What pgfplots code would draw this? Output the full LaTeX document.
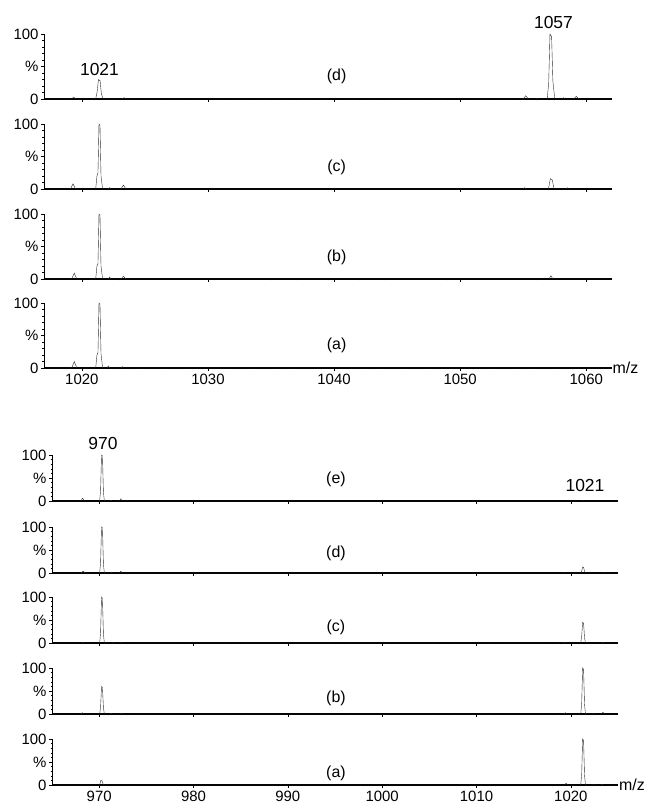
\documentclass[border=0pt]{standalone}
\usepackage{pgfplots}
\pgfplotsset{compat=1.18}
\usepackage{fontspec}
\setmainfont{Liberation Sans}
\newcommand\tlbl{\fontsize{15}{17}\selectfont}
\newcommand\plbl{\fontsize{16}{18}\selectfont}
\newcommand\pklbl{\fontsize{17.5}{19}\selectfont}
\definecolor{speccol}{RGB}{45,45,45}

\pgfplotsset{
  specaxis/.style={scale only axis, axis x line*=bottom, axis y line*=left,
    ymin=0, ymax=100, ytick={0,50,100}, yticklabels={0,\%,100},
    minor y tick num=4, tick align=outside,
    major tick length=3bp, minor tick length=1.5bp,
    every tick/.style={black, line width=0.5pt},
    x axis line style={line width=1.4pt}, y axis line style={line width=0.6pt},
    tick label style={font=\tlbl}, yticklabel style={xshift=1bp}, clip=false,
    cycle list={{speccol, line width=0.75pt, mark=none}}},
  topg/.style={specaxis, width=567.5bp, height=65bp, xmin=1017, xmax=1062,
    xtick={1020,1030,1040,1050,1060}, minor x tick num=9, xticklabels=\empty},
  botg/.style={specaxis, width=566bp, height=46bp, xmin=965, xmax=1025,
    xtick={970,980,990,1000,1010,1020}, minor x tick num=9, xticklabels=\empty},
}

\begin{document}
\begin{tikzpicture}
\useasboundingbox (0,0) rectangle (648bp,806bp);

% ---- upper set: m/z 1017-1062 ----
\begin{axis}[topg, at={(44bp,707bp)}, anchor=south west]
\addplot coordinates {(1017,0) (1019.2,0) (1019.35,3) (1019.5,0)
 (1021.1,0) (1021.22,12) (1021.32,30) (1021.45,28) (1021.55,8) (1021.68,0)
 (1023.2,0) (1023.35,2) (1023.5,0)
 (1055.0,0) (1055.2,5) (1055.4,0) (1056.0,0) (1056.1,1) (1056.2,0)
 (1056.9,0) (1057.02,25) (1057.12,100) (1057.25,96) (1057.35,28) (1057.5,0)
 (1058.1,0) (1058.2,2) (1058.3,0) (1059.0,0) (1059.2,4) (1059.4,0) (1062,0)};
\node[font=\plbl] at (axis cs:1040.2,35) {(d)};
\node[font=\pklbl] at (axis cs:1021.4,45) {1021};
\node[font=\pklbl] at (axis cs:1057.4,118) {1057};
\end{axis}

\begin{axis}[topg, at={(44bp,617bp)}, anchor=south west]
\addplot coordinates {(1017,0) (1019.1,0) (1019.3,8) (1019.5,0)
 (1021.1,0) (1021.2,20) (1021.28,25) (1021.36,100) (1021.44,98) (1021.52,20) (1021.65,0)
 (1022.1,0) (1022.2,2) (1022.3,0) (1023.1,0) (1023.3,6) (1023.5,0)
 (1055.0,0) (1055.1,2) (1055.2,0)
 (1057.0,0) (1057.15,16) (1057.3,14) (1057.45,0)
 (1058.4,0) (1058.5,2) (1058.6,0) (1062,0)};
\node[font=\plbl] at (axis cs:1040.2,34) {(c)};
\end{axis}

\begin{axis}[topg, at={(44bp,527bp)}, anchor=south west]
\addplot coordinates {(1017,0) (1019.2,0) (1019.4,9) (1019.6,0)
 (1021.1,0) (1021.2,20) (1021.28,24) (1021.36,100) (1021.44,98) (1021.52,20) (1021.65,0)
 (1022.1,0) (1022.2,3) (1022.3,0) (1023.1,0) (1023.3,4) (1023.5,0)
 (1057.05,0) (1057.2,5) (1057.35,0) (1062,0)};
\node[font=\plbl] at (axis cs:1040.2,34) {(b)};
\end{axis}

\begin{axis}[topg, at={(44bp,438bp)}, anchor=south west,
  xticklabels={1020,1030,1040,1050,1060}]
\addplot coordinates {(1017,0) (1019.2,0) (1019.4,10) (1019.6,0)
 (1021.1,0) (1021.2,20) (1021.28,24) (1021.36,100) (1021.44,98) (1021.52,22) (1021.65,0)
 (1022.0,0) (1022.1,3) (1022.2,0) (1023.1,0) (1023.2,2) (1023.3,0) (1062,0)};
\node[font=\plbl] at (axis cs:1040.2,35) {(a)};
\node[font=\plbl, anchor=west, inner sep=1pt] at (rel axis cs:1,0) {m/z};
\end{axis}

% ---- lower set: m/z 965-1025 ----
\begin{axis}[botg, at={(52bp,305bp)}, anchor=south west]
\addplot coordinates {(965,0) (968.05,0) (968.25,6) (968.45,0)
 (970.05,0) (970.15,22) (970.25,100) (970.35,98) (970.45,20) (970.55,0)
 (971.15,0) (971.25,2) (971.35,0) (972.15,0) (972.3,5) (972.45,0)
 (1021.2,0) (1021.3,1) (1021.4,0) (1025,0)};
\node[font=\plbl] at (axis cs:995.1,46) {(e)};
\node[font=\pklbl] at (axis cs:970.4,126) {970};
\node[font=\pklbl] at (axis cs:1021.5,33) {1021};
\end{axis}

\begin{axis}[botg, at={(52bp,233bp)}, anchor=south west]
\addplot coordinates {(965,0) (968.1,0) (968.3,4) (968.5,0)
 (970.05,0) (970.15,22) (970.25,100) (970.35,98) (970.45,20) (970.55,0)
 (971.2,0) (971.3,2) (971.4,0) (972.15,0) (972.3,4) (972.45,0)
 (1019.2,0) (1019.3,1) (1019.4,0)
 (1021.1,0) (1021.25,13) (1021.35,12) (1021.5,0)
 (1023.4,0) (1023.5,1) (1023.6,0) (1025,0)};
\node[font=\plbl] at (axis cs:995.1,43) {(d)};
\end{axis}

\begin{axis}[botg, at={(52bp,163bp)}, anchor=south west]
\addplot coordinates {(965,0) (968.2,0) (968.3,2) (968.4,0)
 (970.05,0) (970.15,22) (970.25,100) (970.35,96) (970.45,20) (970.55,0)
 (971.4,0) (971.5,1) (971.6,0) (972.2,0) (972.3,2) (972.4,0)
 (1019.2,0) (1019.35,2) (1019.5,0)
 (1021.05,0) (1021.15,15) (1021.25,45) (1021.35,43) (1021.45,12) (1021.55,0)
 (1023.3,0) (1023.4,2) (1023.5,0) (1025,0)};
\node[font=\plbl] at (axis cs:995.1,35) {(c)};
\end{axis}

\begin{axis}[botg, at={(52bp,92bp)}, anchor=south west]
\addplot coordinates {(965,0) (968.1,0) (968.2,3) (968.3,0)
 (970.05,0) (970.15,15) (970.25,60) (970.35,57) (970.45,14) (970.55,0)
 (971.2,0) (971.3,1) (971.4,0) (972.2,0) (972.3,2) (972.4,0)
 (1019.25,0) (1019.4,3) (1019.55,0)
 (1021.05,0) (1021.15,24) (1021.25,100) (1021.35,97) (1021.45,22) (1021.55,0)
 (1022.3,0) (1022.4,2) (1022.5,0) (1023.25,0) (1023.4,4) (1023.55,0) (1025,0)};
\node[font=\plbl] at (axis cs:995.1,35) {(b)};
\end{axis}

\begin{axis}[botg, at={(52bp,21bp)}, anchor=south west,
  xticklabels={970,980,990,1000,1010,1020}]
\addplot coordinates {(965,0)
 (970.05,0) (970.18,10) (970.3,9) (970.45,0)
 (1019.35,0) (1019.5,4) (1019.65,0)
 (1021.05,0) (1021.15,24) (1021.25,100) (1021.35,97) (1021.45,22) (1021.55,0)
 (1022.3,0) (1022.4,1) (1022.5,0) (1023.2,0) (1023.3,2) (1023.4,0) (1025,0)};
\node[font=\plbl] at (axis cs:995.1,26) {(a)};
\node[font=\plbl, anchor=west, inner sep=1pt] at (rel axis cs:1,0) {m/z};
\end{axis}
\end{tikzpicture}
\end{document}
